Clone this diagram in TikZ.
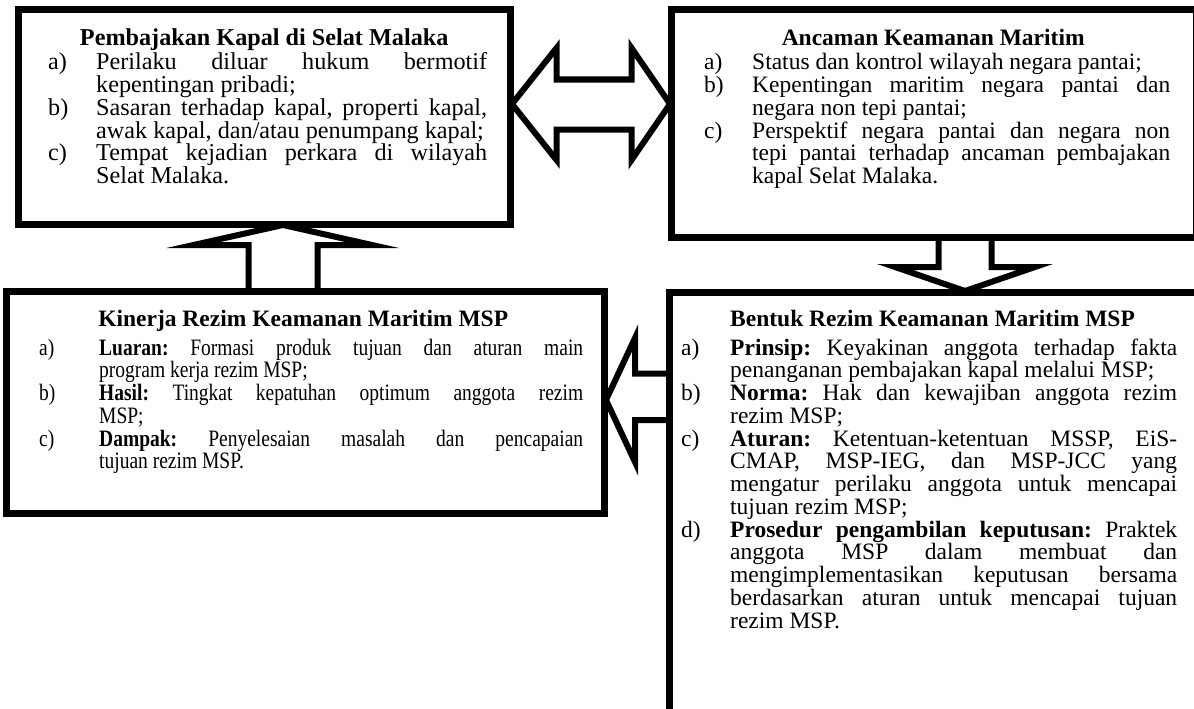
\documentclass[tikz,border=0pt]{standalone}
\usepackage{fontspec}
\setmainfont{Liberation Serif}
\usepackage{graphicx}
\usetikzlibrary{calc}

\newlength\labw
\newlength\txtw
\newcommand\BL{\baselineskip=22.75pt\lineskiplimit=-\maxdimen\lineskip=0pt\frenchspacing}
% item line: label, s (justified) or l (natural), text
\newcommand\IL[3]{\hbox{\hbox to \labw{#1\hss}\makebox[\txtw][#2]{#3}}}
% compressed item line
\newcommand\ILc[3]{\hbox{\hbox to \labw{\scalebox{0.83}[1]{#1}\hss}\scalebox{0.83}[1]{\makebox[\txtw][#2]{#3}}}}
\newcommand\TL[2]{\hbox to #1{\hss\textbf{#2}\hss}}
\newcommand\bodyfont{\fontsize{23.5}{22.75}\selectfont}
\newcommand\bigbodyfont{\fontsize{24.2}{22.75}\selectfont}

\begin{document}
\frenchspacing
\begin{tikzpicture}[x=1pt,y=-1pt,
  bx/.style={draw, line width=7pt, inner sep=0pt},
  blk/.style={draw, line width=6pt, line join=miter, miter limit=20},
  txt/.style={anchor=base west, inner sep=0pt, font=\bodyfont}]
\useasboundingbox (0,0) rectangle (1194,709);
\clip (0,0) rectangle (1194,709);

% boxes
\node[bx, minimum width=491.5pt, minimum height=215pt] (b1) at (264.25,117) {};
\node[bx, minimum width=525pt, minimum height=227.5pt] (b2) at (934,123.25) {};
\node[bx, minimum width=598pt, minimum height=222pt] (b3) at (305.5,402.5) {};
\node[bx, minimum width=540pt, minimum height=440pt] (b4) at (939.5,512.5) {};

% block arrows
\coordinate (dL) at (512,104);
\coordinate (dR) at (670,104);
\draw[blk] (dL) -- ++(44.5,-56) -- ++(0,31.5) -- ++(75,0) -- ++(0,-31.5) -- (dR)
  -- ++(-38.5,56) -- ++(0,-30.5) -- ++(-75,0) -- ++(0,30.5) -- cycle;

\coordinate (dn) at (965,291);
\draw[blk] ($(dn)+(-26.5,-54)$) -- ++(0,30) -- ++(-43.5,0) -- (dn) -- ++(70,-24)
  -- ++(-43.5,0) -- ++(0,-30);

\coordinate (up) at (283,225);
\draw[blk] ($(up)+(-34.5,66.5)$) -- ++(0,-46.5) -- ++(-55,0) -- (up) -- ++(89,20)
  -- ++(-54.5,0) -- ++(0,46.5);

\coordinate (lt) at (606,400);
\draw[blk] ($(lt)+(63.5,-26.5)$) -- ++(-34.5,0) -- ++(0,-35.5) -- (lt) -- ++(29,62)
  -- ++(0,-42) -- ++(34.5,0);

% texts
\node[txt, font=\bigbodyfont] (t1) at (48,46) {\setlength\labw{48pt}\setlength\txtw{391pt}\vtop{\BL
  \TL{432pt}{Pembajakan Kapal di Selat Malaka}
  \vskip1.25pt
  \IL{a)}{s}{Perilaku diluar hukum bermotif}
  \IL{}{l}{kepentingan pribadi;}
  \IL{b)}{s}{Sasaran terhadap kapal, properti kapal,}
  \IL{}{l}{awak kapal, dan/atau penumpang kapal;}
  \IL{c)}{s}{Tempat kejadian perkara di wilayah}
  \IL{}{l}{Selat Malaka.}}};

\node[txt] (t2) at (704,46) {\setlength\labw{48pt}\setlength\txtw{418pt}\vtop{\BL
  \TL{458pt}{Ancaman Keamanan Maritim}
  \vskip1.25pt
  \IL{a)}{l}{Status dan kontrol wilayah negara pantai;}
  \IL{b)}{s}{Kepentingan maritim negara pantai dan}
  \IL{}{l}{negara non tepi pantai;}
  \IL{c)}{s}{Perspektif negara pantai dan negara non}
  \IL{}{s}{tepi pantai terhadap ancaman pembajakan}
  \IL{}{l}{kapal Selat Malaka.}}};

\node[txt] (t3) at (39,326) {\setlength\labw{60pt}\setlength\txtw{583.1pt}\vtop{\BL
  \TL{528pt}{Kinerja Rezim Keamanan Maritim MSP}
  \vskip6.25pt
  \ILc{a)}{s}{\textbf{Luaran:} Formasi produk tujuan dan aturan main}
  \ILc{}{l}{program kerja rezim MSP;}
  \ILc{b)}{s}{\textbf{Hasil:} Tingkat kepatuhan optimum anggota rezim}
  \ILc{}{l}{MSP;}
  \ILc{c)}{s}{\textbf{Dampak:} Penyelesaian masalah dan pencapaian}
  \ILc{}{l}{tujuan rezim MSP.}}};

\node[txt] (t4) at (681,326) {\setlength\labw{49pt}\setlength\txtw{447pt}\vtop{\BL
  \hbox{\hskip49pt\textbf{Bentuk Rezim Keamanan Maritim MSP}}
  \vskip6.25pt
  \IL{a)}{s}{\textbf{Prinsip:} Keyakinan anggota terhadap fakta}
  \IL{}{l}{penanganan pembajakan kapal melalui MSP;}
  \IL{b)}{s}{\textbf{Norma:} Hak dan kewajiban anggota rezim}
  \IL{}{l}{rezim MSP;}
  \IL{c)}{s}{\textbf{Aturan:} Ketentuan-ketentuan MSSP, EiS-}
  \IL{}{s}{CMAP, MSP-IEG, dan MSP-JCC yang}
  \IL{}{s}{mengatur perilaku anggota untuk mencapai}
  \IL{}{l}{tujuan rezim MSP;}
  \IL{d)}{s}{\textbf{Prosedur pengambilan keputusan:} Praktek}
  \IL{}{s}{anggota MSP dalam membuat dan}
  \IL{}{s}{mengimplementasikan keputusan bersama}
  \IL{}{s}{berdasarkan aturan untuk mencapai tujuan}
  \IL{}{l}{rezim MSP.}}};
\end{tikzpicture}
\end{document}
